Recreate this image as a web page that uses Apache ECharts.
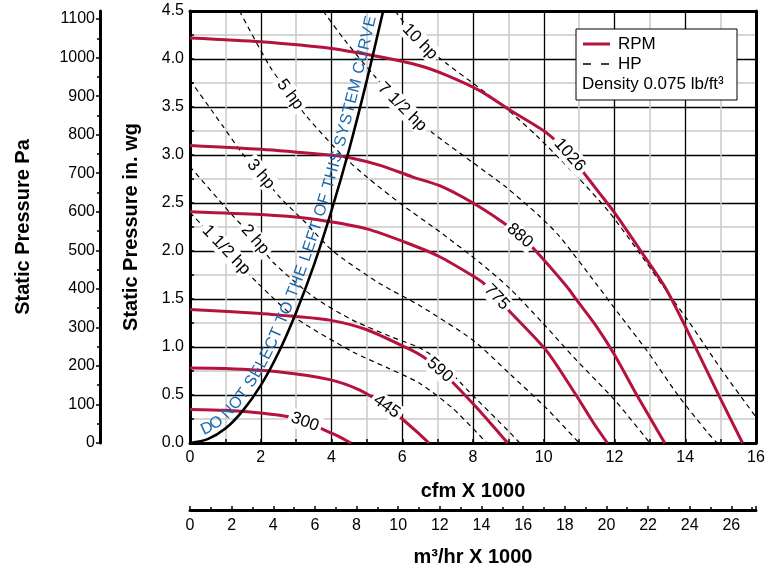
<!DOCTYPE html>
<html>
<head>
<meta charset="utf-8">
<script src="https://cdn.jsdelivr.net/npm/echarts@6/dist/echarts.min.js"></script>
<style>
html, body { margin: 0; background: #fff; }
#chart { width: 776px; height: 571px; }
</style>
</head>
<body>
<div id="chart"></div>
<script>
// fan curves, cfm x 1000 against static pressure in. wg
var rpmNames = ['300', '445', '590', '775', '880', '1026'];
var rpm300 = [[0,0.35],[1,0.34],[2.06,0.31],[2.82,0.27],[3.25,0.22],[3.8,0.135],[4.2,0.07],[4.55,0]];
var rpm445 = [[0,0.78],[1,0.775],[2.54,0.74],[3.95,0.66],[4.8,0.55],[5.56,0.38],[6.0,0.25],[6.4,0.12],[6.75,0]];
var rpm590 = [[0,1.39],[2,1.35],[2.9,1.32],[3.95,1.28],[5.0,1.18],[6.13,0.99],[6.58,0.9],[7.06,0.76],[7.43,0.63],[8.1,0.37],[8.39,0.25],[8.98,0]];
var rpm775 = [[0,2.41],[2,2.38],[3.3,2.34],[5.0,2.23],[6.3,2.06],[7.06,1.94],[8.0,1.74],[8.28,1.67],[8.67,1.52],[9.04,1.37],[10.08,0.96],[10.93,0.49],[11.44,0.19],[11.8,0]];
var rpm880 = [[0,3.1],[2,3.06],[3.95,3.0],[4.43,2.98],[5.4,2.89],[6.3,2.77],[7.06,2.68],[8.0,2.5],[8.84,2.3],[9.32,2.16],[9.75,2.01],[10.65,1.63],[10.93,1.49],[11.44,1.24],[12.0,0.92],[12.63,0.5],[13.42,0]];
var rpm1026 = [[0,4.22],[2,4.18],[4,4.11],[5.4,4.02],[6.5,3.93],[7.26,3.83],[8.19,3.67],[9.12,3.45],[10.08,3.23],[10.73,3.0],[11.16,2.8],[11.58,2.6],[12.0,2.4],[12.8,1.97],[13.45,1.61],[13.98,1.23],[14.97,0.48],[15.62,0]];
var rpmLabelX = [3.25, 5.56, 7.06, 8.67, 9.32, 10.73];

var hpNames = ['1 1/2 hp', '2 hp', '3 hp', '5 hp', '7 1/2 hp', '10 hp'];
var hp15 = [[0,2.4],[1.02,2.01],[1.9,1.67],[3.0,1.3],[4.6,0.95],[5.6,0.78],[6.5,0.62],[7.43,0.36],[8.39,0]];
var hp2 = [[0,2.88],[1.13,2.4],[1.84,2.12],[2.37,1.875],[3.5,1.52],[4.6,1.28],[5.73,1.1],[6.5,0.99],[7.06,0.85],[7.9,0.53],[9.04,0.11],[9.32,0]];
var hp3 = [[0,3.78],[0.93,3.3],[1.47,3.02],[2.0,2.8],[2.54,2.56],[3.2,2.32],[4.04,2.0],[5.37,1.66],[6.5,1.43],[8.0,1.07],[9.04,0.72],[10.08,0.36],[11.0,0]];
var hp5 = [[1.4,4.5],[2.26,3.92],[2.83,3.63],[3.3,3.4],[4.24,3.02],[5.0,2.77],[6.0,2.48],[7.06,2.2],[8.19,1.88],[9.04,1.61],[9.97,1.25],[10.93,0.86],[12.0,0.45],[13.0,0]];
var hp75 = [[3.76,4.5],[4.43,4.17],[5.2,3.83],[6.0,3.5],[6.86,3.23],[8.0,2.92],[8.95,2.66],[9.89,2.36],[10.45,2.15],[11.5,1.65],[12.09,1.36],[12.94,0.95],[13.79,0.5],[14.63,0.11],[14.9,0]];
var hp10 = [[5.8,4.5],[6.5,4.18],[7.26,3.95],[8.1,3.72],[8.95,3.48],[9.8,3.2],[10.93,2.78],[11.86,2.4],[12.9,1.88],[13.36,1.64],[14.07,1.28],[15.03,0.76],[15.9,0.32],[16,0.27]];
var hpLabelX = [1.02, 1.84, 2.0, 2.83, 6.0, 6.5];

var systemCurve = [[0,0],[0.5,0.04],[1,0.15],[1.5,0.34],[2,0.6],[2.5,0.94],[3,1.36],[3.5,1.85],[4,2.42],[4.5,3.06],[5,3.78],[5.46,4.5]];
var systemText = 'DO NOT SELECT TO THE LEFT OF THIS SYSTEM CURVE';

var paTicks = [0,100,200,300,400,500,600,700,800,900,1000,1100];
var inToPa = 249.089;
var cfmToM3 = 1.699;

var FONT = '"Liberation Sans", Arial, Helvetica, sans-serif';
var RED = '#b5123e';

var rpmCurves = [rpm300, rpm445, rpm590, rpm775, rpm880, rpm1026];
var hpCurves = [hp15, hp2, hp3, hp5, hp75, hp10];

var chart = echarts.init(document.getElementById('chart'));

var tickLabel = { color: '#000', fontSize: 16, fontFamily: FONT };
var titleText = { color: '#000', fontSize: 20, fontWeight: 'bold', fontFamily: FONT };
var blackLine = { color: '#000', width: 3 };

var series = [];
rpmCurves.forEach(function (d) {
  series.push({
    type: 'line', name: 'RPM', data: d, smooth: 0.25,
    symbol: 'none', silent: true, z: 3,
    lineStyle: { color: RED, width: 3 }, itemStyle: { color: RED }
  });
});
hpCurves.forEach(function (d) {
  series.push({
    type: 'line', name: 'HP', data: d, smooth: 0.25,
    symbol: 'none', silent: true, z: 2,
    lineStyle: { color: '#000', width: 1.2, type: [5, 4] }, itemStyle: { color: '#000' }
  });
});
series.push({
  type: 'line', name: 'system', data: systemCurve, smooth: 0.3,
  symbol: 'none', silent: true, z: 4,
  lineStyle: { color: '#000', width: 2.6 }
});

chart.setOption({
  animation: false,
  backgroundColor: '#fff',
  grid: { left: 190, top: 11, right: 20, bottom: 128, outerBoundsMode: 'none' },
  xAxis: [
    {
      type: 'value', min: 0, max: 16, interval: 2, position: 'bottom',
      name: 'cfm X 1000', nameLocation: 'middle', nameGap: 38, nameTextStyle: titleText,
      axisLine: { onZero: false, lineStyle: blackLine },
      axisTick: { show: true, inside: true, length: 4, lineStyle: { color: '#000', width: 1.5 } },
      minorTick: { show: true, splitNumber: 2, length: 4, lineStyle: { color: '#000', width: 1.5 } },
      axisLabel: Object.assign({ margin: 7 }, tickLabel),
      splitLine: { show: true, lineStyle: { color: '#000', width: 1.3 } },
      minorSplitLine: { show: true, lineStyle: { color: '#c9c9c9', width: 1.5 } }
    },
    {
      type: 'value', min: 0, max: 16 * cfmToM3, interval: 2, position: 'bottom', offset: 67,
      name: 'm³/hr X 1000', nameLocation: 'middle', nameGap: 37, nameTextStyle: titleText,
      axisLine: { onZero: false, lineStyle: blackLine },
      axisTick: { show: true, inside: true, length: 4, lineStyle: { color: '#000', width: 1.5 } },
      minorTick: { show: true, splitNumber: 2, length: 3, lineStyle: { color: '#000', width: 1.5 } },
      axisLabel: Object.assign({
        margin: 8,
        formatter: function (v) { return Math.abs(v - Math.round(v)) < 1e-6 ? String(Math.round(v)) : ''; }
      }, tickLabel),
      splitLine: { show: false }
    },
    {
      type: 'value', min: 0, max: 16, position: 'top',
      axisLine: { onZero: false, lineStyle: blackLine },
      axisTick: { show: false }, axisLabel: { show: false }, splitLine: { show: false }
    }
  ],
  yAxis: [
    {
      type: 'value', min: 0, max: 4.5, interval: 0.5, position: 'left',
      name: 'Static Pressure in. wg', nameLocation: 'middle', nameGap: 49, nameTextStyle: titleText,
      axisLine: { onZero: false, lineStyle: blackLine },
      axisTick: { show: true, inside: true, length: 4, lineStyle: { color: '#000', width: 1.5 } },
      minorTick: { show: true, splitNumber: 2, length: 4, lineStyle: { color: '#000', width: 1.5 } },
      axisLabel: Object.assign({ margin: 6, formatter: function (v) { return v.toFixed(1); } }, tickLabel),
      splitLine: { show: true, lineStyle: { color: '#000', width: 1.3 } },
      minorSplitLine: { show: true, lineStyle: { color: '#c9c9c9', width: 1.5 } }
    },
    {
      type: 'value', min: 0, max: 4.5 * inToPa, interval: 100, position: 'left', offset: 90,
      name: 'Static Pressure Pa', nameLocation: 'middle', nameGap: 67, nameTextStyle: titleText,
      axisLine: { onZero: false, lineStyle: blackLine },
      axisTick: { show: true, length: 4, customValues: paTicks, lineStyle: { color: '#000', width: 1.5 } },
      minorTick: { show: true, splitNumber: 2, length: 3, lineStyle: { color: '#000', width: 1.5 } },
      axisLabel: Object.assign({
        margin: 5, customValues: paTicks,
        formatter: function (v) { return String(Math.round(v)); }
      }, tickLabel),
      splitLine: { show: false }
    },
    {
      type: 'value', min: 0, max: 4.5, position: 'right',
      axisLine: { onZero: false, lineStyle: blackLine },
      axisTick: { show: false }, axisLabel: { show: false }, splitLine: { show: false }
    }
  ],
  series: series
});

// ---- labels that sit on the curves ----
function interpY(pts, x) {
  if (x <= pts[0][0]) return pts[0][1];
  for (var i = 1; i < pts.length; i++) {
    if (x <= pts[i][0]) {
      var t = (x - pts[i - 1][0]) / (pts[i][0] - pts[i - 1][0]);
      return pts[i - 1][1] + t * (pts[i][1] - pts[i - 1][1]);
    }
  }
  return pts[pts.length - 1][1];
}
function toPx(x, y) {
  return chart.convertToPixel({ xAxisIndex: 0, yAxisIndex: 0 }, [x, y]);
}
function curveLabel(pts, x, text) {
  var p = toPx(x, interpY(pts, x));
  var a = toPx(x - 0.2, interpY(pts, x - 0.2));
  var b = toPx(x + 0.2, interpY(pts, x + 0.2));
  return {
    type: 'text', x: p[0], y: p[1], z: 20,
    rotation: Math.atan2(a[1] - b[1], b[0] - a[0]),
    style: {
      text: text, fill: '#000', font: '17px ' + FONT,
      align: 'center', verticalAlign: 'middle',
      backgroundColor: '#fff', padding: [1, 3]
    }
  };
}

var elements = [];
rpmCurves.forEach(function (d, i) { elements.push(curveLabel(d, rpmLabelX[i], rpmNames[i])); });
hpCurves.forEach(function (d, i) { elements.push(curveLabel(d, hpLabelX[i], hpNames[i])); });

// ---- text along the system curve ----
function catmull(p) {
  var out = [];
  for (var i = 0; i < p.length - 1; i++) {
    var p0 = p[Math.max(i - 1, 0)], p1 = p[i], p2 = p[i + 1], p3 = p[Math.min(i + 2, p.length - 1)];
    for (var k = 0; k < 12; k++) {
      var t = k / 12, t2 = t * t, t3 = t2 * t;
      var pt = [0, 0];
      for (var c = 0; c < 2; c++) {
        pt[c] = 0.5 * (2 * p1[c] + (-p0[c] + p2[c]) * t +
          (2 * p0[c] - 5 * p1[c] + 4 * p2[c] - p3[c]) * t2 +
          (-p0[c] + 3 * p1[c] - 3 * p2[c] + p3[c]) * t3);
      }
      out.push(pt);
    }
  }
  out.push(p[p.length - 1]);
  return out;
}
var path = catmull(systemCurve.map(function (d) { return toPx(d[0], d[1]); }));
var cum = [0];
for (var i = 1; i < path.length; i++) {
  cum.push(cum[i - 1] + Math.hypot(path[i][0] - path[i - 1][0], path[i][1] - path[i - 1][1]));
}
function pointAt(s) {
  for (var j = 1; j < path.length; j++) {
    if (s <= cum[j]) {
      var t = (s - cum[j - 1]) / (cum[j] - cum[j - 1] || 1);
      return [path[j - 1][0] + t * (path[j][0] - path[j - 1][0]), path[j - 1][1] + t * (path[j][1] - path[j - 1][1])];
    }
  }
  return path[path.length - 1];
}
var xStart = toPx(0.45, 0)[0], yEnd = toPx(0, 4.42)[1];
var sStart = 0, sEnd = cum[cum.length - 1];
for (i = 0; i < path.length; i++) { if (path[i][0] >= xStart) { sStart = cum[i]; break; } }
for (i = 0; i < path.length; i++) { if (path[i][1] <= yEnd) { sEnd = cum[i]; break; } }

var ctx = document.createElement('canvas').getContext('2d');
function widths(size) {
  ctx.font = size + 'px ' + FONT;
  return systemText.split('').map(function (ch) { return ctx.measureText(ch).width; });
}
var avail = sEnd - sStart, n = systemText.length;
var w16 = widths(16).reduce(function (a, b) { return a + b; }, 0);
var fsize = Math.max(13, Math.min(18, 16 * (avail - (n - 1) * 0.6) / w16));
var ws = widths(fsize);
var wsum = ws.reduce(function (a, b) { return a + b; }, 0);
var gap = (avail - wsum) / (n - 1);
var s = sStart;
systemText.split('').forEach(function (ch, k) {
  var sc = s + ws[k] / 2;
  var a = pointAt(sc - 6), b = pointAt(sc + 6), p = pointAt(sc);
  var dx = b[0] - a[0], dy = b[1] - a[1], len = Math.hypot(dx, dy) || 1;
  var nx = dy / len, ny = -dx / len;
  elements.push({
    type: 'text', x: p[0] + nx * 2, y: p[1] + ny * 2, z: 15,
    rotation: Math.atan2(-dy, dx),
    style: { text: ch, fill: '#1b68ad', font: fsize.toFixed(2) + 'px ' + FONT, align: 'center', verticalAlign: 'bottom' }
  });
  s += ws[k] + gap;
});

// ---- legend box ----
elements.push({
  type: 'rect', z: 11,
  shape: { x: 576, y: 29, width: 161, height: 71 },
  style: { fill: '#fff', stroke: '#000', lineWidth: 1 }
});
elements.push({
  type: 'line', z: 12, shape: { x1: 583, y1: 44, x2: 610, y2: 44 },
  style: { stroke: RED, lineWidth: 3 }
});
elements.push({
  type: 'line', z: 12, shape: { x1: 583, y1: 64, x2: 609, y2: 64 },
  style: { stroke: '#000', lineWidth: 1.4, lineDash: [8, 10] }
});
elements.push({
  type: 'text', x: 618, y: 44, z: 12,
  style: { text: 'RPM', fill: '#000', font: '17px ' + FONT, verticalAlign: 'middle' }
});
elements.push({
  type: 'text', x: 618, y: 64, z: 12,
  style: { text: 'HP', fill: '#000', font: '17px ' + FONT, verticalAlign: 'middle' }
});
elements.push({
  type: 'text', x: 582, y: 84, z: 12,
  style: { text: 'Density 0.075 lb/ft³', fill: '#000', font: '17px ' + FONT, verticalAlign: 'middle' }
});

chart.setOption({ graphic: { elements: elements } });
</script>
</body>
</html>
